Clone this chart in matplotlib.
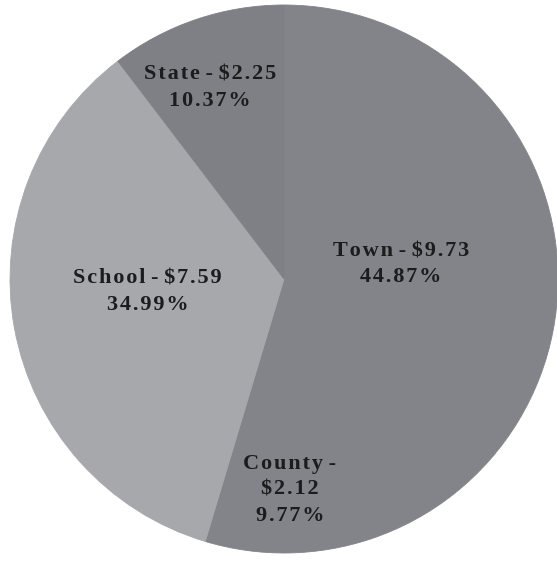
import numpy as np
import matplotlib
matplotlib.use("Agg")
import matplotlib.pyplot as plt

# tax dollar breakdown
names = ["Town", "County", "School", "State"]
dollars = [9.73, 2.12, 7.59, 2.25]
percents = [44.87, 9.77, 34.99, 10.37]
label_lines = [
    ["Town - $9.73", "44.87%"],
    ["County -", "$2.12", "9.77%"],
    ["School - $7.59", "34.99%"],
    ["State - $2.25", "10.37%"],
]
colors = ["#838489", "#838489", "#a7a8ac", "#7f8085"]
# how far out (fraction of radius) each label sits
label_r = [0.43, 0.77, 0.50, 0.75]
label_shift = [-2.0, 0.7, -5.0, 2.5]  # degrees

W, H = 557, 561
CX, CY, R = 284, 279, 274

fig = plt.figure(figsize=(W / 100, H / 100), dpi=100)
ax = fig.add_axes([0, 0, 1, 1])

wedges, _ = ax.pie(percents, colors=colors, startangle=90, counterclock=False,
                   radius=1.0)
for w, c in zip(wedges, colors):
    # edge in the fill colour so neighbouring slices leave no seam
    w.set_edgecolor(c)
    w.set_linewidth(0.6)

ax.set_xlim(-CX / R, (W - CX) / R)
ax.set_ylim(-(H - CY) / R, CY / R)
ax.set_aspect("auto")
ax.axis("off")


def spaced(s):
    # a little tracking between letters (not around spaces)
    out = s[0]
    for a, b in zip(s, s[1:]):
        if a != " " and b != " ":
            out += "\u200a"
        out += b
    return out


for w, lines, r, sh in zip(wedges, label_lines, label_r, label_shift):
    mid = np.deg2rad((w.theta1 + w.theta2) / 2 + sh)
    x, y = r * np.cos(mid), r * np.sin(mid)
    ax.text(x, y, "\n".join(spaced(l) for l in lines), ha="center", va="center",
            fontsize=16, fontweight="bold", color="#1c1c1e",
            family=["Liberation Serif", "DejaVu Serif"], linespacing=1.42,
            multialignment="center")

fig.savefig("out.png", dpi=100, facecolor="white")
